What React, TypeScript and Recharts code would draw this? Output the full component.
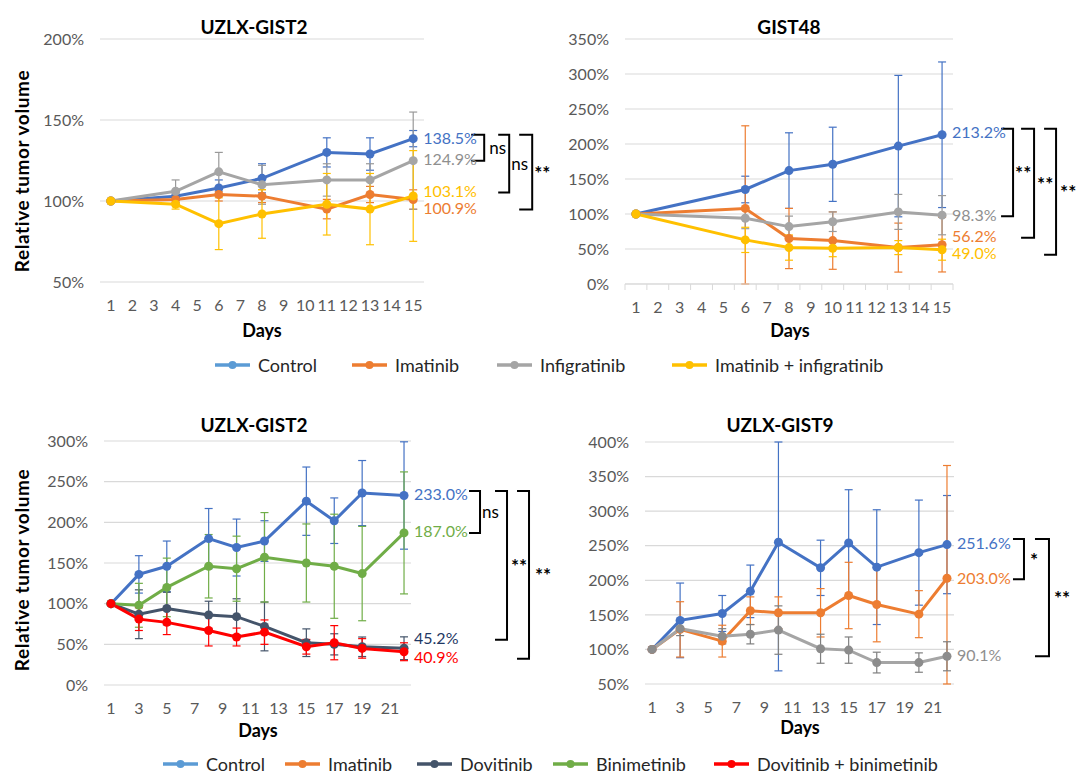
import React from "react";
import {
  LineChart,
  Line,
  XAxis,
  YAxis,
  CartesianGrid,
  ErrorBar,
  LabelList,
  ReferenceArea,
} from "recharts";

const W = 1083;
const H = 775;
const FONT = "Lato, 'Open Sans', Arial, sans-serif";
const TICK_COLOR = "#595959";
const GRID = "#D9D9D9";

// x axis categories (days)
const topDays = [1, 2, 3, 4, 5, 6, 7, 8, 9, 10, 11, 12, 13, 14, 15];
const bottomDays = [1, 2, 3, 4, 5, 6, 7, 8, 9, 10, 11, 12, 13, 14, 15, 16, 17, 18, 19, 20, 21, 22];

// y axis ticks
const ticksG2 = [50, 100, 150, 200];
const ticksG48 = [0, 50, 100, 150, 200, 250, 300, 350];
const ticksG2b = [0, 50, 100, 150, 200, 250, 300];
const ticksG9 = [50, 100, 150, 200, 250, 300, 350, 400];

// UZLX-GIST2, infigratinib study (top left)
const g2Days = [1, 4, 6, 8, 11, 13, 15];
const g2Control = [100, 103, 108, 114, 130, 129, 138.5];
const g2ControlSd = [0, 2, 5, 9, 9, 10, 5];
const g2Imatinib = [100, 101, 104, 103, 95, 104, 100.9];
const g2ImatinibSd = [0, 2, 4, 4, 6, 5, 6];
const g2Infig = [100, 106, 118, 110, 113, 113, 124.9];
const g2InfigSd = [0, 7, 12, 12, 10, 10, 30];
const g2Combo = [100, 98, 86, 92, 98, 95, 103.1];
const g2ComboSd = [0, 3, 16, 15, 19, 22, 28];

// GIST48 (top right)
const g48Days = [1, 6, 8, 10, 13, 15];
const g48Control = [100, 135, 162, 171, 197, 213.2];
const g48ControlSd = [0, 19, 54, 53, 101, 104];
const g48Imatinib = [100, 108, 65, 62, 52, 56.2];
const g48ImatinibSd = [0, 118, 43, 41, 35, 39];
const g48Infig = [100, 94, 82, 89, 103, 98.3];
const g48InfigSd = [0, 15, 15, 14, 25, 28];
const g48Combo = [100, 63, 52, 51, 52, 49.0];
const g48ComboSd = [0, 18, 18, 12, 10, 15];

// UZLX-GIST2, dovitinib / binimetinib study (bottom left)
const g2bDays = [1, 3, 5, 8, 10, 12, 15, 17, 19, 22];
const g2bControl = [100, 136, 146, 180, 169, 177, 226, 202, 236, 233.0];
const g2bControlSd = [0, 23, 31, 37, 35, 25, 42, 28, 40, 66];
const g2bDovitinib = [100, 87, 94, 86, 84, 72, 52, 50, 47, 45.2];
const g2bDovitinibSd = [0, 30, 20, 17, 22, 30, 17, 13, 12, 14];
const g2bBinimetinib = [100, 98, 120, 146, 143, 157, 150, 146, 137, 187.0];
const g2bBinimetinibSd = [0, 27, 36, 39, 40, 55, 48, 64, 58, 75];
const g2bCombo = [100, 81, 77, 67, 59, 65, 47, 52, 45, 40.9];
const g2bComboSd = [0, 14, 15, 19, 11, 15, 9, 21, 12, 11];

// UZLX-GIST9 (bottom right)
const g9Days = [1, 3, 6, 8, 10, 13, 15, 17, 20, 22];
const g9Control = [100, 142, 152, 184, 255, 218, 254, 219, 240, 251.6];
const g9ControlSd = [0, 54, 26, 38, 186, 40, 77, 83, 76, 71];
const g9Imatinib = [100, 129, 112, 156, 153, 153, 178, 165, 151, 203.0];
const g9ImatinibSd = [0, 40, 23, 20, 23, 35, 48, 54, 34, 163];
const g9Other = [100, 130, 119, 122, 128, 101, 99, 81, 81, 90.1];
const g9OtherSd = [0, 10, 11, 14, 35, 21, 19, 15, 14, 21];

type Series = { key: string; days: number[]; values: number[]; sd: number[] };

const buildRows = (axisDays: number[], series: Series[]) =>
  axisDays.map((d) => {
    const row: Record<string, number | null> = { day: d };
    series.forEach((s) => {
      const i = s.days.indexOf(d);
      row[s.key] = i >= 0 ? s.values[i] : null;
      row[s.key + "Sd"] = i >= 0 ? s.sd[i] : null;
    });
    return row;
  });

const rowsG2 = buildRows(topDays, [
  { key: "control", days: g2Days, values: g2Control, sd: g2ControlSd },
  { key: "imatinib", days: g2Days, values: g2Imatinib, sd: g2ImatinibSd },
  { key: "infig", days: g2Days, values: g2Infig, sd: g2InfigSd },
  { key: "combo", days: g2Days, values: g2Combo, sd: g2ComboSd },
]);
const rowsG48 = buildRows(topDays, [
  { key: "control", days: g48Days, values: g48Control, sd: g48ControlSd },
  { key: "imatinib", days: g48Days, values: g48Imatinib, sd: g48ImatinibSd },
  { key: "infig", days: g48Days, values: g48Infig, sd: g48InfigSd },
  { key: "combo", days: g48Days, values: g48Combo, sd: g48ComboSd },
]);
const rowsG2b = buildRows(bottomDays, [
  { key: "control", days: g2bDays, values: g2bControl, sd: g2bControlSd },
  { key: "dovitinib", days: g2bDays, values: g2bDovitinib, sd: g2bDovitinibSd },
  { key: "binimetinib", days: g2bDays, values: g2bBinimetinib, sd: g2bBinimetinibSd },
  { key: "combo", days: g2bDays, values: g2bCombo, sd: g2bComboSd },
]);
const rowsG9 = buildRows(bottomDays, [
  { key: "control", days: g9Days, values: g9Control, sd: g9ControlSd },
  { key: "imatinib", days: g9Days, values: g9Imatinib, sd: g9ImatinibSd },
  { key: "other", days: g9Days, values: g9Other, sd: g9OtherSd },
]);

type SeriesStyle = {
  key: string;
  color: string;
  dot: string;
  err: string;
  label: string;
  labelDy: number;
};
type Bracket = { from: string; to: string; text: string; a: number; b: number; t: number };
type Plot = { x0: number; x1: number; y0: number; y1: number };

const BLUE = "#4472C4";
const ORANGE = "#ED7D31";
const GRAY = "#A5A5A5";
const YELLOW = "#FFC000";
const SLATE = "#44546A";
const GREEN = "#70AD47";
const RED = "#FF0000";

const Y_AXIS_W = 70;
const X_AXIS_H = 40;

type PanelProps = {
  rows: Record<string, number | null>[];
  plot: Plot;
  domain: [number, number];
  yTicks: number[];
  interval: number;
  series: SeriesStyle[];
  brackets: Bracket[];
  boundaryTicks?: boolean;
};

function Panel({ rows, plot, domain, yTicks, interval, series, brackets, boundaryTicks }: PanelProps) {
  const margin = {
    top: plot.y0,
    left: plot.x0 - Y_AXIS_W,
    right: W - plot.x1,
    bottom: H - plot.y1 - X_AXIS_H,
  };
  const band = (plot.x1 - plot.x0) / rows.length;
  const last = rows.length - 1;
  const finalOf = (k: string) => rows[last][k] as number;
  const dyOf = (k: string) => series.find((s) => s.key === k)?.labelDy ?? 0;

  // error bars stop at the plot edge, as in the original chart
  const errorWithin = (k: string) => (row: any) => {
    const v = row[k];
    const e = row[k + "Sd"];
    if (v == null || e == null) return null;
    return [Math.min(e, v - domain[0]), Math.min(e, domain[1] - v)];
  };

  const renderXTick = (props: any) => {
    const { x, y, payload, index } = props;
    return (
      <g>
        {boundaryTicks && (
          <line x1={x - band / 2} x2={x - band / 2} y1={plot.y1} y2={plot.y1 + 6} stroke={GRID} />
        )}
        {boundaryTicks && index === last && (
          <line x1={x + band / 2} x2={x + band / 2} y1={plot.y1} y2={plot.y1 + 6} stroke={GRID} />
        )}
        <text x={x} y={y} dy="0.71em" textAnchor="middle" fill={TICK_COLOR} fontSize={16} fontFamily={FONT}>
          {payload.value}
        </text>
      </g>
    );
  };

  const endLabel = (s: SeriesStyle) => (p: any) => {
    if (p.index !== last || p.value == null) return null;
    return (
      <text
        x={p.x + 10}
        y={p.y + s.labelDy}
        fill={s.label}
        fontSize={16}
        fontFamily={FONT}
        dominantBaseline="central"
      >
        {Number(p.value).toFixed(1)}%
      </text>
    );
  };

  return (
    <div style={{ position: "absolute", left: 0, top: 0 }}>
      <LineChart width={W} height={H} data={rows} margin={margin}>
        <CartesianGrid vertical={false} stroke={GRID} strokeWidth={1.2} />
        <XAxis
          dataKey="day"
          interval={interval}
          padding={{ left: band / 2, right: band / 2 }}
          axisLine={boundaryTicks ? { stroke: GRID } : false}
          tickLine={false}
          tickSize={6}
          tickMargin={12}
          height={X_AXIS_H}
          tick={renderXTick}
        />
        <YAxis
          type="number"
          domain={domain}
          ticks={yTicks}
          allowDataOverflow
          interval={0}
          axisLine={false}
          tickLine={false}
          width={Y_AXIS_W}
          tickSize={6}
          tickMargin={10}
          tickFormatter={(v: number) => `${v}%`}
          tick={{ fill: TICK_COLOR, fontSize: 16, fontFamily: FONT }}
        />
        {brackets.map((b, i) => (
          <ReferenceArea
            key={i}
            y1={finalOf(b.from)}
            y2={finalOf(b.to)}
            ifOverflow="visible"
            shape={(p: any) => {
              const right = p.x + p.width;
              const top = p.y + dyOf(b.from) - 3;
              const bottom = p.y + p.height + dyOf(b.to) + 2;
              const isNs = b.text === "ns";
              return (
                <g>
                  <path
                    d={`M${right + b.a},${top}H${right + b.b}V${bottom}H${right + b.a}`}
                    fill="none"
                    stroke="#000"
                    strokeWidth={2}
                  />
                  <text
                    x={right + b.t}
                    y={(top + bottom) / 2}
                    fontSize={isNs ? 17 : 19}
                    fontWeight={isNs ? 400 : 700}
                    fontFamily={FONT}
                    dominantBaseline="central"
                    fill="#000"
                    stroke="none"
                  >
                    {b.text}
                  </text>
                </g>
              );
            }}
          />
        ))}
        {series.map((s) => (
          <Line
            key={s.key}
            dataKey={s.key}
            stroke={s.color}
            strokeWidth={3}
            connectNulls
            isAnimationActive={false}
            activeDot={false}
            dot={{ r: 4.5, fill: s.dot, stroke: s.dot, strokeWidth: 0 }}
          >
            <ErrorBar dataKey={errorWithin(s.key)} width={4} strokeWidth={1.2} stroke={s.err} direction="y" />
            <LabelList dataKey={s.key} content={endLabel(s)} />
          </Line>
        ))}
      </LineChart>
    </div>
  );
}

const topLegend = [
  { name: "Control", color: "#5B9BD5", x: 215 },
  { name: "Imatinib", color: ORANGE, x: 352 },
  { name: "Infigratinib", color: GRAY, x: 497 },
  { name: "Imatinib + infigratinib", color: YELLOW, x: 672 },
];
const bottomLegend = [
  { name: "Control", color: "#5B9BD5", x: 163 },
  { name: "Imatinib", color: ORANGE, x: 285 },
  { name: "Dovitinib", color: SLATE, x: 417 },
  { name: "Binimetinib", color: GREEN, x: 553 },
  { name: "Dovitinib + binimetinib", color: RED, x: 714 },
];

const Legend = ({ items, y }: { items: { name: string; color: string; x: number }[]; y: number }) => (
  <g>
    {items.map((it) => (
      <g key={it.name}>
        <line x1={it.x} x2={it.x + 35} y1={y} y2={y} stroke={it.color} strokeWidth={3.5} />
        <circle cx={it.x + 17.5} cy={y} r={4} fill={it.color} />
        <text x={it.x + 43} y={y} fontSize={18} fill="#262626" fontFamily={FONT} dominantBaseline="central">
          {it.name}
        </text>
      </g>
    ))}
  </g>
);

const titleStyle = { fontSize: 19, fontWeight: 700, fontFamily: FONT, fill: "#000" } as const;
const axisTitleStyle = { fontSize: 18, fontWeight: 700, fontFamily: FONT, fill: "#000" } as const;
const yTitleStyle = { fontSize: 19, fontWeight: 700, fontFamily: FONT, fill: "#000", letterSpacing: 0.6 } as const;

export default function App() {
  return (
    <div style={{ position: "relative", width: W, height: H, background: "#fff", fontFamily: FONT }}>
      <style>{"body{margin:0}"}</style>
      <Panel
        rows={rowsG2}
        plot={{ x0: 100, x1: 424, y0: 39, y1: 282 }}
        domain={[50, 200]}
        yTicks={ticksG2}
        interval={0}
        series={[
          { key: "control", color: BLUE, dot: BLUE, err: BLUE, label: BLUE, labelDy: -1 },
          { key: "imatinib", color: ORANGE, dot: ORANGE, err: ORANGE, label: ORANGE, labelDy: 8 },
          { key: "infig", color: GRAY, dot: GRAY, err: "#999999", label: "#8F8F8F", labelDy: -2 },
          { key: "combo", color: YELLOW, dot: YELLOW, err: YELLOW, label: YELLOW, labelDy: -5.5 },
        ]}
        brackets={[
          { from: "control", to: "infig", text: "ns", a: 58, b: 71, t: 76 },
          { from: "control", to: "combo", text: "ns", a: 85, b: 96, t: 98 },
          { from: "control", to: "imatinib", text: "**", a: 106, b: 119, t: 121 },
        ]}
      />
      <Panel
        rows={rowsG48}
        plot={{ x0: 625, x1: 953, y0: 39, y1: 284 }}
        domain={[0, 350]}
        yTicks={ticksG48}
        interval={0}
        boundaryTicks
        series={[
          { key: "control", color: BLUE, dot: BLUE, err: BLUE, label: BLUE, labelDy: -3 },
          { key: "imatinib", color: ORANGE, dot: ORANGE, err: ORANGE, label: ORANGE, labelDy: -9 },
          { key: "infig", color: GRAY, dot: GRAY, err: "#999999", label: "#8F8F8F", labelDy: -1 },
          { key: "combo", color: YELLOW, dot: YELLOW, err: YELLOW, label: YELLOW, labelDy: 3 },
        ]}
        brackets={[
          { from: "control", to: "infig", text: "**", a: 59, b: 71, t: 73 },
          { from: "control", to: "imatinib", text: "**", a: 79, b: 92, t: 95 },
          { from: "control", to: "combo", text: "**", a: 102, b: 114, t: 118 },
        ]}
      />
      <Panel
        rows={rowsG2b}
        plot={{ x0: 104, x1: 411, y0: 441, y1: 685 }}
        domain={[0, 300]}
        yTicks={ticksG2b}
        interval={1}
        series={[
          { key: "control", color: BLUE, dot: BLUE, err: BLUE, label: BLUE, labelDy: -1.5 },
          { key: "dovitinib", color: SLATE, dot: SLATE, err: SLATE, label: "#1F3864", labelDy: -10.5 },
          { key: "binimetinib", color: GREEN, dot: GREEN, err: GREEN, label: GREEN, labelDy: -2 },
          { key: "combo", color: RED, dot: RED, err: RED, label: RED, labelDy: 5 },
        ]}
        brackets={[
          { from: "control", to: "binimetinib", text: "ns", a: 65, b: 76, t: 78 },
          { from: "control", to: "dovitinib", text: "**", a: 91, b: 103, t: 107 },
          { from: "control", to: "combo", text: "**", a: 113, b: 125, t: 131 },
        ]}
      />
      <Panel
        rows={rowsG9}
        plot={{ x0: 645, x1: 954, y0: 442, y1: 684 }}
        domain={[50, 400]}
        yTicks={ticksG9}
        interval={1}
        series={[
          { key: "control", color: BLUE, dot: BLUE, err: BLUE, label: BLUE, labelDy: -2.5 },
          { key: "imatinib", color: ORANGE, dot: ORANGE, err: ORANGE, label: ORANGE, labelDy: -1 },
          { key: "other", color: GRAY, dot: "#8C8C8C", err: "#7F7F7F", label: "#8F8F8F", labelDy: -2 },
        ]}
        brackets={[
          { from: "control", to: "imatinib", text: "*", a: 66, b: 77, t: 83 },
          { from: "control", to: "other", text: "**", a: 88, b: 102, t: 107 },
        ]}
      />
      <svg
        width={W}
        height={H}
        style={{ position: "absolute", left: 0, top: 0, pointerEvents: "none" }}
      >
        <text x={254} y={26} textAnchor="middle" dominantBaseline="central" {...titleStyle}>UZLX-GIST2</text>
        <text x={789} y={26} textAnchor="middle" dominantBaseline="central" {...titleStyle}>GIST48</text>
        <text x={254} y={424} textAnchor="middle" dominantBaseline="central" {...titleStyle}>UZLX-GIST2</text>
        <text x={780} y={424} textAnchor="middle" dominantBaseline="central" {...titleStyle}>UZLX-GIST9</text>

        <text x={262} y={330} textAnchor="middle" dominantBaseline="central" {...axisTitleStyle}>Days</text>
        <text x={790} y={330} textAnchor="middle" dominantBaseline="central" {...axisTitleStyle}>Days</text>
        <text x={258} y={730} textAnchor="middle" dominantBaseline="central" {...axisTitleStyle}>Days</text>
        <text x={800} y={727} textAnchor="middle" dominantBaseline="central" {...axisTitleStyle}>Days</text>

        <text
          transform="translate(21,171) rotate(-90)"
          textAnchor="middle"
          dominantBaseline="central"
          {...yTitleStyle}
        >
          Relative tumor volume
        </text>
        <text
          transform="translate(21,570) rotate(-90)"
          textAnchor="middle"
          dominantBaseline="central"
          {...yTitleStyle}
        >
          Relative tumor volume
        </text>

        <Legend items={topLegend} y={365} />
        <Legend items={bottomLegend} y={764} />
      </svg>
    </div>
  );
}
